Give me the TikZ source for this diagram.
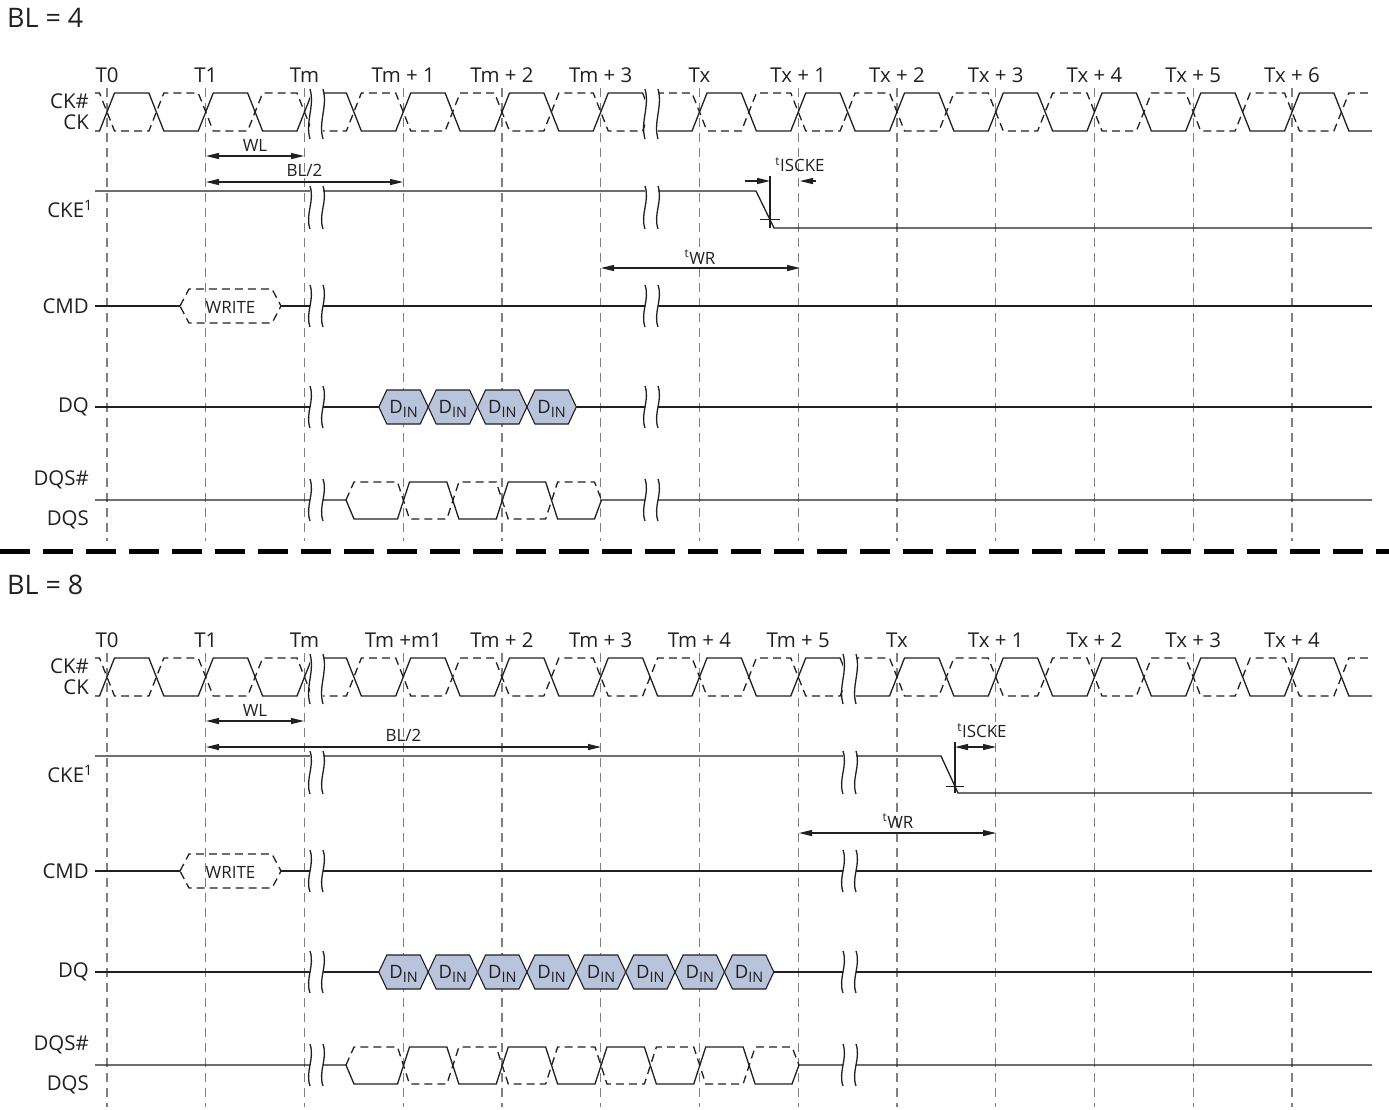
\documentclass[tikz,border=0pt]{standalone}
\usepackage{fontspec}
\setmainfont{Open Sans}
\usetikzlibrary{arrows.meta}
\definecolor{ink}{HTML}{231F20}
\definecolor{gridc}{HTML}{7F7F7F}
\definecolor{din}{HTML}{B8C4DC}
\tikzset{
  sig/.style={draw=ink, line width=1.3bp},
  dsig/.style={draw=ink, line width=1.3bp, dash pattern=on 8bp off 5bp},
  gridline/.style={draw=gridc, line width=1.2bp, dash pattern=on 9bp off 6bp},
  tipL/.style={-{Triangle[length=13bp,width=6bp]}},
  dim/.style={draw=ink, line width=1.2bp, {Triangle[length=13bp,width=6bp]}-{Triangle[length=13bp,width=6bp]}},
  lbl/.style={font=\fontsize{20.5}{24}\selectfont, text=ink, inner sep=0pt},
  rlbl/.style={lbl, anchor=east},
  small/.style={font=\fontsize{17}{20}\selectfont, text=ink, inner sep=0pt},
  big/.style={font=\fontsize{27}{32}\selectfont, text=ink, inner sep=0pt, anchor=west},
  hexd/.style={draw=ink, line width=1.1bp, fill=din},
  dinlbl/.style={font=\fontsize{18.5}{22}\selectfont, text=ink, inner sep=0pt},
}
% break mark: two S-curves at x and x+13 from y1 to y2
\newcommand\brkmark[3]{%
  \draw[sig] (#1,#2) .. controls ({#1+5},{#2+(#3-#2)*0.35}) and ({#1-5},{#2+(#3-#2)*0.65}) .. (#1,#3);
  \draw[sig] ({#1+13},#2) .. controls ({#1+18},{#2+(#3-#2)*0.35}) and ({#1+8},{#2+(#3-#2)*0.65}) .. ({#1+13},#3);
}
% clock rows, #1 = vertical offset
\newcommand\clockrows[1]{%
  \draw[sig] (95,{131+#1}) foreach \k in {0,...,12} {
    -- ({107+\k*98.75-7.5},{131+#1}) -- ({107+\k*98.75+7.5},{93+#1})
    -- ({107+\k*98.75+49.375-7.5},{93+#1}) -- ({107+\k*98.75+49.375+7.5},{131+#1}) } -- (1372,{131+#1});
  \draw[dsig] (95,{93+#1}) foreach \k in {0,...,12} {
    -- ({107+\k*98.75-7.5},{93+#1}) -- ({107+\k*98.75+7.5},{131+#1})
    -- ({107+\k*98.75+49.375-7.5},{131+#1}) -- ({107+\k*98.75+49.375+7.5},{93+#1}) } -- (1372,{93+#1});
}
% DIN hexagons: #1 = count, #2 = y, #3 = name prefix
\newcommand\dinrow[3]{%
  \foreach \k in {1,...,#1} {
    \pgfmathsetmacro\cc{403.5+(\k-1)*49.375}
    \draw[hexd] ({\cc-24.7},#2) -- ({\cc-16.7},{#2-17}) -- ({\cc+16.7},{#2-17}) -- ({\cc+24.7},#2)
      -- ({\cc+16.7},{#2+17}) -- ({\cc-16.7},{#2+17}) -- cycle;
    \node[dinlbl] (#3\k) at (\cc,{#2+1.5}) {D\raisebox{-0.4ex}{\fontsize{14.5}{17}\selectfont IN}};
  }
}
% DQS burst: #1 = y offset, #2 = list of even crossing indices, #3 = end x
\newcommand\dqsrow[3]{%
  \draw[sig] (95,{500+#1}) -- (346,{500+#1}) -- (354,{519+#1}) foreach \j in {#2} {
    -- ({403.5+\j*49.375-6},{519+#1}) -- ({403.5+\j*49.375+6},{482+#1})
    -- ({403.5+(\j+1)*49.375-6},{482+#1}) -- ({403.5+(\j+1)*49.375+6},{519+#1}) }
    -- ({#3-7},{519+#1}) -- (#3,{500+#1}) -- (1372,{500+#1});
  \draw[dsig] (346,{500+#1}) -- (354,{482+#1}) foreach \j in {#2} {
    -- ({403.5+\j*49.375-6},{482+#1}) -- ({403.5+\j*49.375+6},{519+#1})
    -- ({403.5+(\j+1)*49.375-6},{519+#1}) -- ({403.5+(\j+1)*49.375+6},{482+#1}) }
    -- ({#3-7},{482+#1}) -- (#3,{500+#1});
}
\begin{document}
\begin{tikzpicture}[x=1bp,y=-1bp]
\useasboundingbox (0,0) rectangle (1389,1109);

%================ TOP PANEL (BL = 4) =================
\node[big] (bl4) at (7,18) {BL = 4};
\foreach \i in {0,...,12} \draw[gridline] ({107+\i*98.75},88) -- ({107+\i*98.75},541);
\foreach \n [count=\i from 0] in {T0,T1,Tm,Tm + 1,Tm + 2,Tm + 3,Tx,Tx + 1,Tx + 2,Tx + 3,Tx + 4,Tx + 5,Tx + 6}
  \node[lbl] (ta\i) at ({107+\i*98.75},75) {\n};

\node[rlbl] (ckna) at (89,101) {CK\#};
\node[rlbl] (cka) at (89,122) {CK};
\node[rlbl] (ckea) at (93,209) {CKE\textsuperscript{1}};
\node[rlbl] (cmda) at (89,306) {CMD};
\node[rlbl] (dqa) at (89,407) {DQ};
\node[rlbl] (dqsna) at (89,480) {DQS\#};
\node[rlbl] (dqsa) at (89,520) {DQS};

\begin{scope}
  \clip (0,0) rectangle (310,548) (323,0) rectangle (645,548) (658,0) rectangle (1389,548);
  \clockrows{0}
  \draw[sig] (95,191) -- (756,191) -- (774,228) -- (1372,228);
  \draw[sig] (95,306) -- (180,306);
  \draw[sig] (281,306) -- (1372,306);
  \draw[sig] (95,407) -- (378.8,407);
  \draw[sig] (576.4,407) -- (1372,407);
  \dqsrow{0}{0,2}{601.5}
\end{scope}
\draw[dsig] (180,306) -- (189,289) -- (272,289) -- (281,306) -- (272,323) -- (189,323) -- cycle;
\node[small] (wra) at (230.5,307) {WRITE};
\dinrow{4}{407}{dina}

\foreach \bx in {310,645} {
  \brkmark{\bx}{89}{139}
  \brkmark{\bx}{186}{229}
  \brkmark{\bx}{285}{327}
  \brkmark{\bx}{386}{428}
  \brkmark{\bx}{479}{521}
}

\draw[dim] (206,156) -- (304,156);
\node[small] (wla) at (255,145) {WL};
\draw[dim] (206,182) -- (403,182);
\node[small] (bla) at (304.5,170) {BL/2};
\draw[dim] (601,268) -- (800,268);
\node[small] (twra) at (700,257) {\textsuperscript{t}WR};
\draw[sig] (770,176) -- (770,228);
\draw[sig] (760,219.8) -- (780,219.8);
\draw[sig,tipL] (745,181) -- (770,181);
\draw[sig,tipL] (816,181) -- (800,181);
\node[small] (iscka) at (800,165) {\textsuperscript{t}ISCKE};

%================ SEPARATOR =================
\draw[draw=black, line width=5bp, dash pattern=on 30bp off 13bp] (0,551) -- (1389,551);

%================ BOTTOM PANEL (BL = 8) =================
\node[big] (bl8) at (7,585) {BL = 8};
\foreach \i in {0,...,12} \draw[gridline] ({107+\i*98.75},653) -- ({107+\i*98.75},1107);
\foreach \n [count=\i from 0] in {T0,T1,Tm,Tm +m1,Tm + 2,Tm + 3,Tm + 4,Tm + 5,Tx,Tx + 1,Tx + 2,Tx + 3,Tx + 4}
  \node[lbl] (tb\i) at ({107+\i*98.75},640) {\n};

\node[rlbl] (cknb) at (89,666) {CK\#};
\node[rlbl] (ckb) at (89,687) {CK};
\node[rlbl] (ckeb) at (93,774) {CKE\textsuperscript{1}};
\node[rlbl] (cmdb) at (89,871) {CMD};
\node[rlbl] (dqb) at (89,972) {DQ};
\node[rlbl] (dqsnb) at (89,1045) {DQS\#};
\node[rlbl] (dqsb) at (89,1085) {DQS};

\begin{scope}
  \clip (0,560) rectangle (310,1109) (323,560) rectangle (843,1109) (856,560) rectangle (1389,1109);
  \clockrows{565}
  \draw[sig] (95,756) -- (941,756) -- (958,793) -- (1372,793);
  \draw[sig] (95,871) -- (180,871);
  \draw[sig] (281,871) -- (1372,871);
  \draw[sig] (95,972) -- (378.8,972);
  \draw[sig] (773.9,972) -- (1372,972);
  \dqsrow{565}{0,2,4,6}{799}
\end{scope}
\draw[dsig] (180,871) -- (189,854) -- (272,854) -- (281,871) -- (272,888) -- (189,888) -- cycle;
\node[small] (wrb) at (230.5,872) {WRITE};
\dinrow{8}{972}{dinb}

\foreach \bx in {310,843} {
  \brkmark{\bx}{654}{704}
  \brkmark{\bx}{751}{794}
  \brkmark{\bx}{850}{892}
  \brkmark{\bx}{951}{993}
  \brkmark{\bx}{1044}{1086}
}

\draw[dim] (206,721) -- (304,721);
\node[small] (wlb) at (255,710) {WL};
\draw[dim] (206,747) -- (601,747);
\node[small] (blb) at (403.5,735) {BL/2};
\draw[dim] (799,833) -- (996,833);
\node[small] (twrb) at (898,821) {\textsuperscript{t}WR};
\draw[sig] (955,742) -- (955,793);
\draw[sig] (946,786.5) -- (964,786.5);
\draw[dim] (955,747) -- (996,747);
\node[small] (isckb) at (982,731) {\textsuperscript{t}ISCKE};

\end{tikzpicture}
\end{document}
